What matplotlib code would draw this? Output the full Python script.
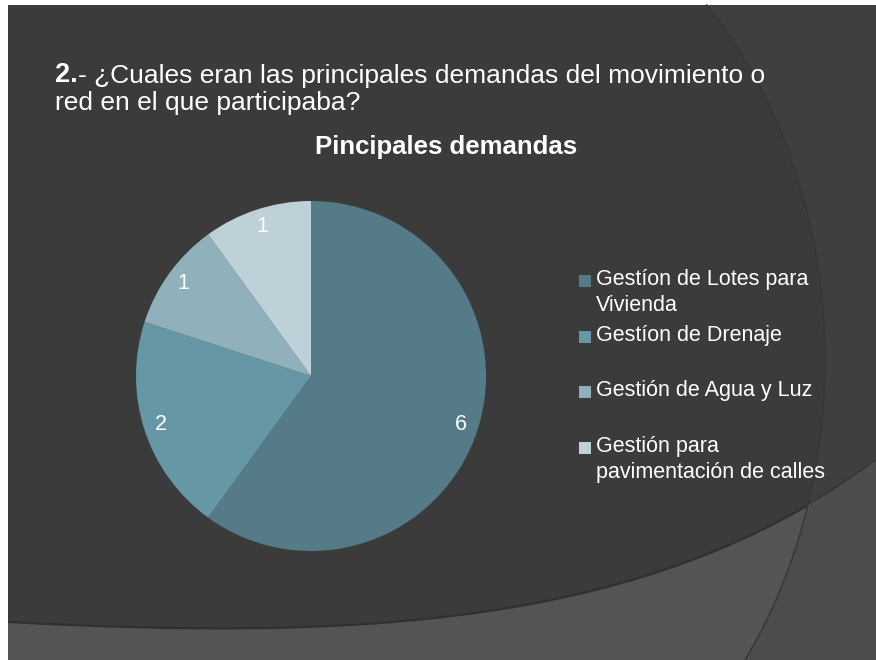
import numpy as np
import matplotlib
matplotlib.use("Agg")
import matplotlib.pyplot as plt
import matplotlib.patches as pch
from matplotlib.path import Path

# data
labels = ["Gestíon de Lotes para\nVivienda", "Gestíon de Drenaje",
          "Gestión de Agua y Luz", "Gestión para\npavimentación de calles"]
values = [6, 2, 1, 1]
colors = ["#557b88", "#6597a5", "#90b1bc", "#bfd1d8"]
chart_title = "Pincipales demandas"
question_num = "2."
question = "- ¿Cuales eran las principales demandas del movimiento o\nred en el que participaba?"

plt.rcParams['font.family'] = ['Liberation Sans', 'DejaVu Sans']

W, H = 876, 660
fig = plt.figure(figsize=(W / 100, H / 100), dpi=100)
fig.patch.set_facecolor("white")

# slide background (pixel coords, y down)
bg = fig.add_axes([0, 0, 1, 1])
bg.set_xlim(0, W)
bg.set_ylim(H, 0)
bg.axis("off")

dark = "#3b3b3b"
light = "#545454"
bg.add_patch(pch.Rectangle((8, 5), W - 8, H - 5, facecolor=dark, edgecolor="none"))

# big ellipse on the right
cx, cy, ea, eb = 425, 360, 400, 500
ys = np.linspace(5, H, 200)
xs = cx + ea * np.sqrt(np.clip(1 - ((ys - cy) / eb) ** 2, 0, None))
outside = np.vstack([np.column_stack([xs, ys]), [[W, H], [W, 5]]])
bg.add_patch(pch.Polygon(outside, closed=True, facecolor="#3f3f3f", edgecolor="none"))

# lighter band along the bottom
verts = [(8, 622), (350, 640), (650, 630), (W, 460), (W, H), (8, H), (8, 622)]
codes = [Path.MOVETO, Path.CURVE4, Path.CURVE4, Path.CURVE4,
         Path.LINETO, Path.LINETO, Path.CLOSEPOLY]
band = pch.PathPatch(Path(verts, codes), facecolor=light, edgecolor="none")
bg.add_patch(band)
edge = pch.PathPatch(Path(verts[:4], codes[:4]), facecolor="none",
                     edgecolor="#303030", lw=1.6)
bg.add_patch(edge)
out2 = pch.Polygon(outside, closed=True, facecolor="#4c4c4c", edgecolor="none")
bg.add_patch(out2)
out2.set_clip_path(band)
bg.plot(xs, ys, color="#363636", lw=1)

# question text
t = bg.text(55, 82, question_num, color="white", fontsize=19.5, fontweight="bold",
            va="baseline", ha="left")
bg.annotate(question.split("\n")[0], xy=(1, 0), xycoords=t, color="white",
            fontsize=19, va="bottom", ha="left")
bg.text(55, 110, question.split("\n")[1], color="white", fontsize=19,
        va="baseline", ha="left")

# chart title
bg.text(446, 147, chart_title, color="white", fontsize=18.5, fontweight="bold",
        ha="center", va="center")

# pie
R = 175
pcx, pcy = 311, 376
ax = fig.add_axes([(pcx - R) / W, (H - pcy - R) / H, 2 * R / W, 2 * R / H])
total = sum(values)
wedges, _, autotexts = ax.pie(values, colors=colors, startangle=90, counterclock=False,
                              autopct=lambda p: f"{round(p * total / 100):d}",
                              pctdistance=0.9, radius=1,
                              wedgeprops=dict(linewidth=0))
for at in autotexts:
    at.set_color("white")
    at.set_fontsize(15.5)
ax.set_aspect("equal")
ax.set_xlim(-1, 1)
ax.set_ylim(-1, 1)
ax.axis("off")

# legend, evenly spaced slots with text aligned to the top
slot = 55.7
for i, (lab, col) in enumerate(zip(labels, colors)):
    yc = 281 + i * slot
    bg.add_patch(pch.Rectangle((579, yc - 6), 12, 12, facecolor=col, edgecolor="none"))
    bg.text(596, yc - 12, lab, color="white", fontsize=15.5, va="top", ha="left",
            linespacing=1.3)

fig.savefig("out.png", dpi=100, facecolor=fig.get_facecolor())
